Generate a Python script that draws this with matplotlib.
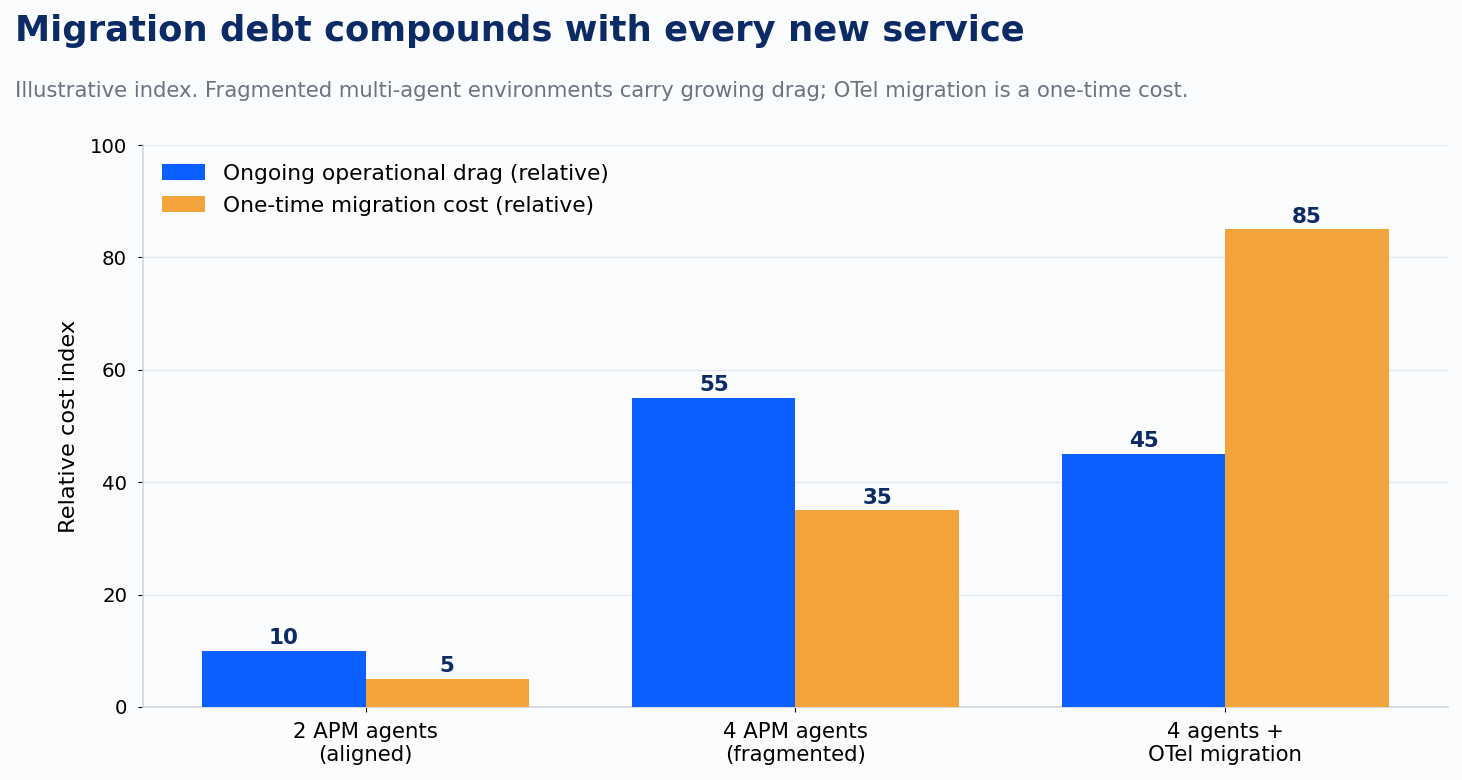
import numpy as np
import matplotlib.pyplot as plt

# DATA
categories = ["2 APM agents\n(aligned)", "4 APM agents\n(fragmented)", "4 agents +\nOTel migration"]
ongoing_drag = [10, 55, 45]
migration_cost = [5, 35, 85]
series_labels = ["Ongoing operational drag (relative)", "One-time migration cost (relative)"]
y_ticks = [0, 20, 40, 60, 80, 100]

# STYLE
BG = "#FBFCFE"
BLUE = "#0B5FFF"
ORANGE = "#F2A33A"
NAVY = "#0B2A66"
GRAY = "#6B7280"

fig = plt.figure(figsize=(14.62, 7.8), dpi=100)
fig.patch.set_facecolor(BG)
ax = fig.add_axes([0.0978, 0.0936, 0.8926, 0.7205])
ax.set_facecolor(BG)

x = np.arange(len(categories))
width = 0.38
b1 = ax.bar(x - width / 2, ongoing_drag, width, color=BLUE, label=series_labels[0], zorder=3)
b2 = ax.bar(x + width / 2, migration_cost, width, color=ORANGE, label=series_labels[1], zorder=3)

# value labels
for bars in (b1, b2):
    ax.bar_label(bars, padding=2, fontsize=15.5, fontweight="bold", color=NAVY)

ax.set_ylim(0, 100)
ax.set_yticks(y_ticks)
ax.set_xticks(x)
ax.set_xticklabels(categories, fontsize=15.3)
ax.tick_params(axis="y", labelsize=14.2, pad=8)
ax.tick_params(axis="x", pad=7)
ax.set_ylabel("Relative cost index", fontsize=16.2, labelpad=8)

# grid and spines
ax.grid(axis="y", color="#E5E8EF", linewidth=1, zorder=0)
ax.set_axisbelow(True)
for side in ("top", "right"):
    ax.spines[side].set_visible(False)
for side in ("left", "bottom"):
    ax.spines[side].set_color("#D1D5DE")
    ax.spines[side].set_linewidth(1.2)

ax.legend(loc="upper left", frameon=False, fontsize=15.7, handlelength=2.0,
          borderaxespad=0.45, labelspacing=0.55)

# titles
fig.text(0.0103, 0.96, "Migration debt compounds with every new service",
         fontsize=25.5, fontweight="bold", color=NAVY, va="center", ha="left")
fig.text(0.0103, 0.883, "Illustrative index. Fragmented multi-agent environments carry growing drag; "
         "OTel migration is a one-time cost.", fontsize=15.2, color=GRAY, va="center", ha="left")

fig.savefig("out.png", dpi=100, facecolor=BG)
